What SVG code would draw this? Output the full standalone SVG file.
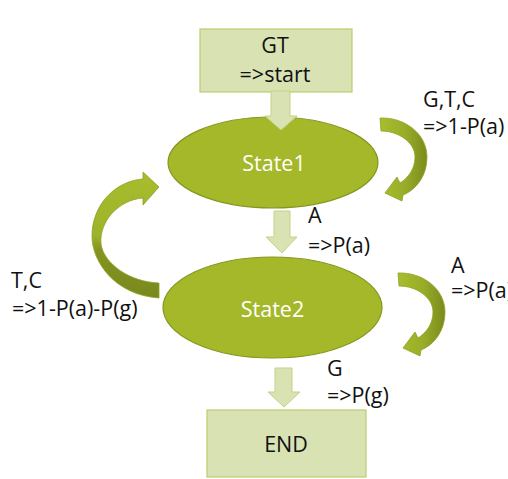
<svg xmlns="http://www.w3.org/2000/svg" xmlns:xlink="http://www.w3.org/1999/xlink" width="508" height="479" viewBox="0 0 508 479">
  <style>
    .box { fill: #d8e2b3; stroke: #bccd6e; stroke-width: 1.2; }
    .state { fill: #a4b82a; stroke: #869720; stroke-width: 1.2; }
    .lbl { font-family: "Open Sans", "Liberation Sans", sans-serif; font-size: 21.5px; fill: #111; }
    .stxt { font-family: "Open Sans", "Liberation Sans", sans-serif; font-size: 21.5px; fill: #ffffff; text-anchor: middle; }
    .mid { text-anchor: middle; }
    .block { fill: #d8e2b3; stroke: #c3d386; stroke-width: 1; }
    .curve { stroke: #8ea124; stroke-width: 0.8; }
  </style>
  <defs>
    <linearGradient id="gR" x1="0" y1="0" x2="1" y2="0">
      <stop offset="0" stop-color="#a9bd2e"/>
      <stop offset="0.55" stop-color="#98ac28"/>
      <stop offset="1" stop-color="#7b8a1d"/>
    </linearGradient>
    <linearGradient id="gL" x1="0" y1="0" x2="0" y2="1">
      <stop offset="0" stop-color="#a8bc2d"/>
      <stop offset="0.5" stop-color="#9fb32a"/>
      <stop offset="0.62" stop-color="#84941f"/>
      <stop offset="1" stop-color="#7a891d"/>
    </linearGradient>
    <path id="loopArrow" d="M380,118 C405,117 427,134 427,157 C427,176 416,190 403,195 L402,201 L385,193 L397,177 L400,183 C408,178 415,169 415,157 C415,142 398,131 381,131 Z"/>
  </defs>

  <g id="node-gt">
    <rect class="box" x="200" y="29" width="152" height="63"/>
    <text class="lbl mid" x="275" y="53">GT</text>
    <text class="lbl mid" x="275" y="82">=&gt;start</text>
  </g>

  <g id="node-state1">
    <ellipse class="state" cx="273" cy="162.5" rx="105" ry="45.5"/>
    <text class="stxt" x="274" y="171">State1</text>
  </g>

  <g id="node-state2">
    <ellipse class="state" cx="272.5" cy="307.5" rx="109.5" ry="50.5"/>
    <text class="stxt" x="272.5" y="317">State2</text>
  </g>

  <g id="node-end">
    <rect class="box" x="207" y="410" width="159" height="67"/>
    <text class="lbl mid" x="286" y="452">END</text>
  </g>

  <g id="connectors">
    <polygon class="block" points="271,91 290,91 290,116 297,116 281,130 265,116 271,116"/>
    <polygon class="block" points="274,211 290,211 290,237 297,237 282,253 266,237 274,237"/>
    <polygon class="block" points="275,368 292,368 292,392 300,392 284,407 268,392 275,392"/>
    <use xlink:href="#loopArrow" href="#loopArrow" class="curve" fill="url(#gR)"/>
    <use xlink:href="#loopArrow" href="#loopArrow" class="curve" fill="url(#gR)" transform="translate(18,155)"/>
    <path class="curve" fill="url(#gL)" d="M159,187 L143,172 L143,179 C115,181 92,205 92,236 C92,262 115,295 159,298 L159,283 C130,282 104,264 101,244 C99,222 118,200 143,198 L143,205 Z"/>
  </g>

  <g id="labels">
    <text class="lbl" x="423" y="107">G,T,C</text>
    <text class="lbl" x="423" y="134">=&gt;1-P(a)</text>
    <text class="lbl" x="308" y="223">A</text>
    <text class="lbl" x="308" y="253">=&gt;P(a)</text>
    <text class="lbl" x="11" y="288">T,C</text>
    <text class="lbl" x="12" y="316">=&gt;1-P(a)-P(g)</text>
    <text class="lbl" x="451" y="273">A</text>
    <text class="lbl" x="451" y="298">=&gt;P(a)</text>
    <text class="lbl" x="327" y="376">G</text>
    <text class="lbl" x="327" y="403">=&gt;P(g)</text>
  </g>
</svg>
